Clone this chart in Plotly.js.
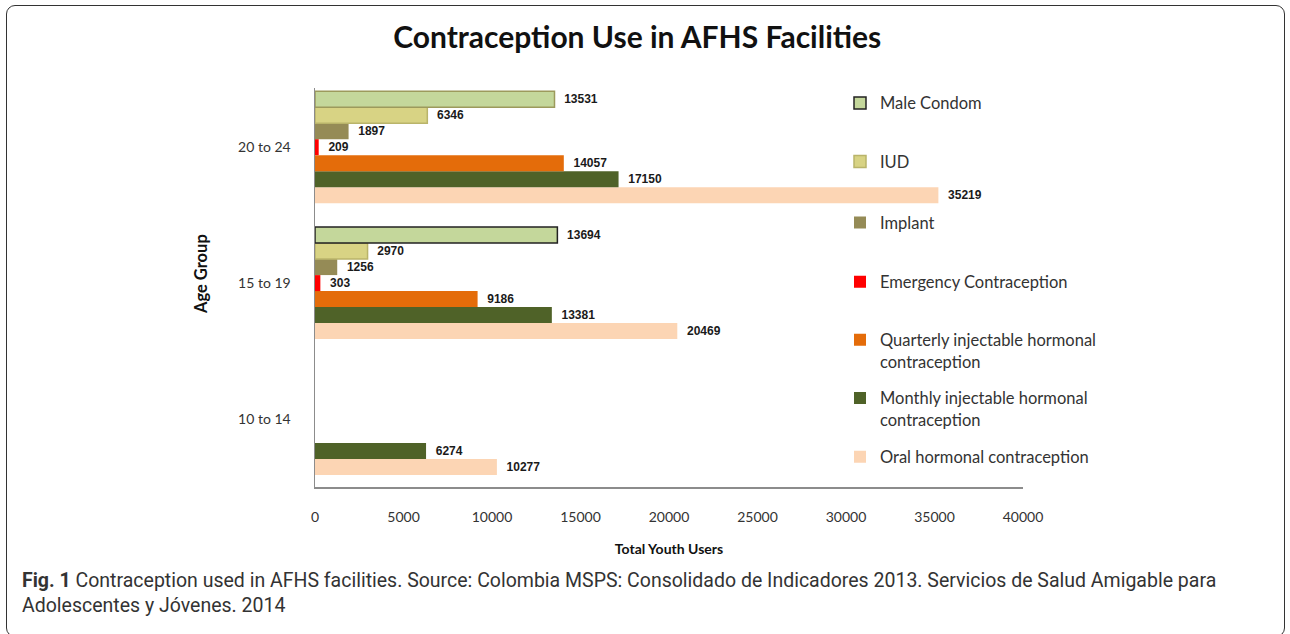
<!DOCTYPE html>
<html>
<head>
<meta charset="utf-8">
<script src="https://cdn.plot.ly/plotly-3.0.1.min.js"></script>
<style>
  html, body { margin: 0; padding: 0; background: #fff; }
  #wrap { position: relative; width: 1290px; height: 634px; overflow: hidden; }
  #chart { position: absolute; left: 0; top: 0; width: 1290px; height: 634px; }
  #frame { position: absolute; left: 6px; top: 5px; width: 1279px; height: 632px;
           border: 1.5px solid #333; border-radius: 9px; pointer-events: none; box-sizing: border-box; }
</style>
</head>
<body>
<div id="wrap">
  <div id="chart"></div>
  <div id="frame"></div>
</div>
<script>
// ---- data ----
const ageGroups = ["10 to 14", "15 to 19", "20 to 24"];
const oralHormonal      = [10277, 20469, 35219];
const monthlyInjectable = [6274, 13381, 17150];
const quarterlyInjectable = [null, 9186, 14057];
const emergency         = [null, 303, 209];
const implant           = [null, 1256, 1897];
const iud               = [null, 2970, 6346];
const maleCondom        = [null, 13694, 13531];
const seriesNames = [
  "Oral hormonal contraception",
  "Monthly injectable hormonal<br>contraception",
  "Quarterly injectable hormonal<br>contraception",
  "Emergency Contraception",
  "Implant",
  "IUD",
  "Male Condom"
];
const xTicks = [0, 5000, 10000, 15000, 20000, 25000, 30000, 35000, 40000];

// ---- styles ----
const seriesValues = [oralHormonal, monthlyInjectable, quarterlyInjectable, emergency, implant, iud, maleCondom];
const fills = ["#fcd5b4", "#4f6228", "#e46c0a", "#ff0000", "#958b56", "#d8d384", "#c4d79b"];
const lines = [
  ["#fcd5b4","#fcd5b4","#fcd5b4"],
  ["#4f6228","#4f6228","#4f6228"],
  ["#e46c0a","#e46c0a","#e46c0a"],
  ["#ff0000","#ff0000","#ff0000"],
  ["#958b56","#958b56","#958b56"],
  ["#b9b46a","#b9b46a","#b9b46a"],
  ["#222222","#222222","#9c9a5c"]
];
const lineW = [0, 0, 0, 0, 0, 1.5, 1.5];
const legendY = [0.075, 0.196, 0.342, 0.514, 0.662, 0.815, 0.962];
const FONT = "Lato, 'Open Sans', sans-serif";
const L = 315, R = 1023, T = 88, B = 487;
const px = v => (v - L) / (R - L);
const py = v => (B - v) / (B - T);

const traces = seriesValues.map((vals, i) => ({
  type: "bar",
  orientation: "h",
  name: seriesNames[i],
  y: ageGroups,
  x: vals,
  text: vals.map(v => v == null ? "" : "&nbsp;&nbsp;" + String(v)),
  textposition: "outside",
  constraintext: "none",
  cliponaxis: false,
  textfont: { family: "'Liberation Sans', Arial, sans-serif", size: 12, color: "#1a1a1a", weight: "bold" },
  marker: { color: fills[i], line: { color: lines[i], width: lineW[i] } },
  legend: i === 0 ? "legend" : "legend" + (i + 1),
  showlegend: true,
  hoverinfo: "x+name"
}));

const layout = {
  width: 1290, height: 634,
  paper_bgcolor: "#fff", plot_bgcolor: "#fff",
  margin: { l: L, r: 1290 - R, t: T, b: 634 - B },
  font: { family: FONT, color: "#333" },
  showlegend: true,
  barmode: "group",
  bargap: 0.176,
  bargroupgap: 0,
  title: {
    text: "<b>Contraception Use in AFHS Facilities</b>",
    font: { family: FONT, size: 30, color: "#111" },
    x: 0.494, xref: "container", xanchor: "center",
    y: 1 - 37 / 634, yref: "container", yanchor: "middle"
  },
  xaxis: {
    range: [0, 40000],
    tickvals: xTicks,
    ticktext: xTicks.map(String),
    showgrid: false, zeroline: false,
    showline: true, linecolor: "#8c8c8c", linewidth: 1.5,
    ticks: "", ticklabelstandoff: 17,
    tickfont: { family: FONT, size: 14, color: "#333" },
    title: { text: "<b>Total Youth Users</b>", font: { family: FONT, size: 14, color: "#111" }, standoff: 20 },
    fixedrange: true
  },
  yaxis: {
    type: "category",
    categoryorder: "array", categoryarray: ageGroups,
    range: [-0.5, 2.435],
    showgrid: false, zeroline: false,
    showline: true, linecolor: "#8c8c8c", linewidth: 1.5,
    ticks: "", ticklabelstandoff: 20,
    tickfont: { family: FONT, size: 14, color: "#333" },
    fixedrange: true
  },
  annotations: [
    {
      xref: "paper", yref: "paper", x: px(201), y: py(274),
      xanchor: "center", yanchor: "middle", showarrow: false, textangle: -90,
      text: "<b>Age Group</b>",
      font: { family: FONT, size: 16.5, color: "#111" }
    },
    {
      xref: "paper", yref: "paper", x: px(20), y: py(580),
      xanchor: "left", yanchor: "middle", showarrow: false, align: "left",
      text: "<b>Fig. 1</b> Contraception used in AFHS facilities. Source: Colombia MSPS: Consolidado de Indicadores 2013. Servicios de Salud Amigable para",
      font: { family: "Roboto, sans-serif", size: 19.5, color: "#333" }
    },
    {
      xref: "paper", yref: "paper", x: px(20), y: py(605),
      xanchor: "left", yanchor: "middle", showarrow: false, align: "left",
      text: "Adolescentes y Jóvenes. 2014",
      font: { family: "Roboto, sans-serif", size: 19.5, color: "#333" }
    }
  ]
};

seriesNames.forEach((n, i) => {
  const key = i === 0 ? "legend" : "legend" + (i + 1);
  layout[key] = {
    x: px(840), xanchor: "left",
    y: legendY[i], yanchor: "middle",
    valign: "top",
    bgcolor: "rgba(0,0,0,0)",
    font: { family: FONT, size: 16.5, color: "#333" },
    itemclick: false, itemdoubleclick: false
  };
});

Plotly.newPlot("chart", traces, layout, { displayModeBar: false, staticPlot: true });
</script>
</body>
</html>
